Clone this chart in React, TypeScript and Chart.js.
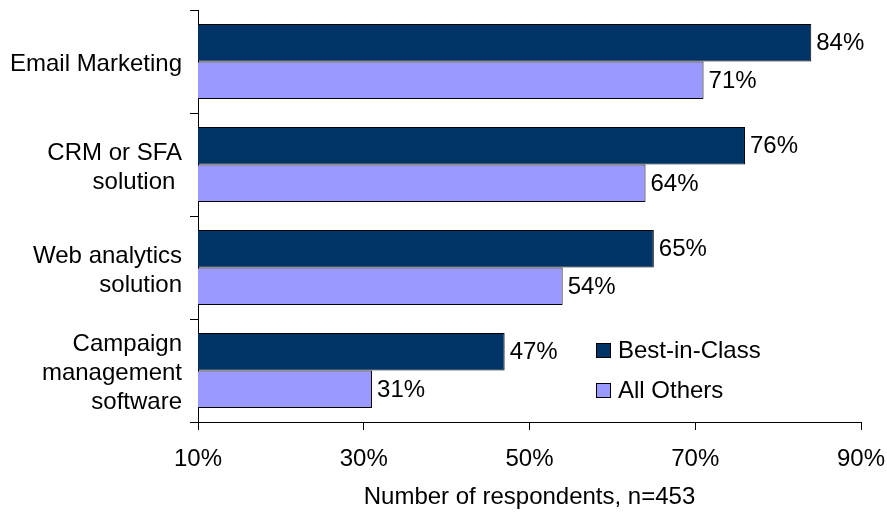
import React, { useEffect, useRef } from "react";
import { Chart, registerables } from "chart.js";

Chart.register(...registerables);

const categories: (string | string[])[] = [
  "Email Marketing",
  ["CRM or SFA", "solution "],
  ["Web analytics", "solution"],
  ["Campaign", "management", "software"],
];
const bestInClass = [84, 76, 65, 47];
const allOthers = [71, 64, 54, 31];
const seriesNames = ["Best-in-Class", "All Others"];
const xTicks = [10, 30, 50, 70, 90];
const axisTitle = "Number of respondents, n=453";

const DARK = "#003366";
const LIGHT = "#9999FF";
const FONT = "'Liberation Sans', Arial, sans-serif";
const FS = 24;

const labelsPlugin = {
  id: "valueLabels",
  afterDatasetsDraw(chart: any) {
    const ctx = chart.ctx;
    ctx.save();
    ctx.font = `${FS}px ${FONT}`;
    ctx.fillStyle = "#000";
    ctx.textBaseline = "middle";
    ctx.textAlign = "left";
    chart.data.datasets.forEach((ds: any, i: number) => {
      const meta = chart.getDatasetMeta(i);
      meta.data.forEach((bar: any, j: number) => {
        ctx.fillText(ds.data[j] + "%", bar.x + 5, bar.y + 1);
      });
    });
    // legend
    const area = chart.chartArea;
    const colors = [DARK, LIGHT];
    const lx = area.left + 398;
    seriesNames.forEach((name, i) => {
      const cy = area.top + 340 + i * 40;
      ctx.fillStyle = colors[i];
      ctx.fillRect(lx, cy - 7, 15, 15);
      ctx.strokeStyle = "#000";
      ctx.lineWidth = 1;
      ctx.strokeRect(lx + 0.5, cy - 6.5, 14, 14);
      ctx.fillStyle = "#000";
      ctx.fillText(name, lx + 22, cy + 1);
    });
    ctx.restore();
  },
};

export default function App() {
  const ref = useRef<HTMLCanvasElement>(null);
  useEffect(() => {
    const chart = new Chart(ref.current!, {
      type: "bar",
      data: {
        labels: categories as any,
        datasets: [
          {
            label: seriesNames[0],
            data: bestInClass,
            backgroundColor: DARK,
            borderColor: "#000",
            borderWidth: 1,
            borderSkipped: false,
            categoryPercentage: 0.73,
            barPercentage: 1.0,
          },
          {
            label: seriesNames[1],
            data: allOthers,
            backgroundColor: LIGHT,
            borderColor: "#000",
            borderWidth: 1,
            borderSkipped: false,
            categoryPercentage: 0.73,
            barPercentage: 1.0,
          },
        ],
      },
      options: {
        indexAxis: "y",
        animation: false,
        responsive: false,
        devicePixelRatio: 1,
        layout: { padding: { top: 10, right: 26, left: 0, bottom: 0 } },
        plugins: {
          legend: { display: false },
          tooltip: { enabled: false },
        },
        scales: {
          x: {
            min: 10,
            max: 90,
            afterBuildTicks: (scale: any) => {
              scale.ticks = xTicks.map((v) => ({ value: v }));
            },
            afterFit: (scale: any) => {
              scale.paddingLeft = 0;
              scale.paddingRight = 0;
              scale.height = 90;
            },
            ticks: {
              callback: (v: any) => v + "%",
              color: "#000",
              font: { family: FONT, size: FS },
              padding: 15,
              maxRotation: 0,
            },
            grid: {
              drawOnChartArea: false,
              drawTicks: true,
              tickLength: 8,
              color: "#000",
              lineWidth: 1,
            },
            border: { display: true, color: "#000", width: 1 },
            title: {
              display: true,
              text: axisTitle,
              color: "#000",
              font: { family: FONT, size: FS },
              padding: { top: 8, bottom: 0 },
            },
          },
          y: {
            afterFit: (scale: any) => {
              scale.width = 198;
              scale.paddingTop = 0;
              scale.paddingBottom = 0;
            },
            ticks: {
              color: "#000",
              font: { family: FONT, size: FS, lineHeight: 1.21 },
              padding: 8,
              labelOffset: 3,
            },
            grid: {
              offset: true,
              drawOnChartArea: false,
              drawTicks: true,
              tickLength: 8,
              color: "#000",
              lineWidth: 1,
            },
            border: { display: true, color: "#000", width: 1 },
          },
        },
      },
      plugins: [labelsPlugin],
    } as any);
    return () => chart.destroy();
  }, []);
  return (
    <div style={{ position: "fixed", left: 0, top: 0, width: 887, height: 512, background: "#fff" }}>
      <canvas ref={ref} width={887} height={512} style={{ width: 887, height: 512, display: "block" }} />
    </div>
  );
}
